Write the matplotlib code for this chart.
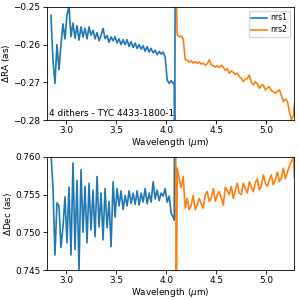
import matplotlib
matplotlib.use("Agg")
import matplotlib.pyplot as plt

# nrs1 wavelengths (um)
wl_nrs1 = [2.85, 2.87, 2.89, 2.91, 2.93, 2.95, 2.97, 2.99, 3.01, 3.03,
           3.05, 3.07, 3.09, 3.11, 3.13, 3.15, 3.17, 3.19, 3.21, 3.23,
           3.25, 3.27, 3.29, 3.31, 3.33, 3.35, 3.37, 3.39, 3.41, 3.43,
           3.45, 3.47, 3.49, 3.51, 3.53, 3.55, 3.57, 3.59, 3.61, 3.63,
           3.65, 3.67, 3.69, 3.71, 3.73, 3.75, 3.77, 3.79, 3.81, 3.83,
           3.85, 3.87, 3.89, 3.91, 3.93, 3.95, 3.97, 3.99, 4.01, 4.03,
           4.05, 4.07, 4.08, 4.085, 4.09]
ra_nrs1 = [-0.2522, -0.2640, -0.2703, -0.2600, -0.2667, -0.2600, -0.2545, -0.2585, -0.2521, -0.2499,
           -0.2579, -0.2543, -0.2583, -0.2550, -0.2588, -0.2553, -0.2580, -0.2557, -0.2585, -0.2553,
           -0.2575, -0.2562, -0.2585, -0.2568, -0.2590, -0.2575, -0.2557, -0.2584, -0.2576, -0.2594,
           -0.2580, -0.2590, -0.2579, -0.2596, -0.2585, -0.2600, -0.2587, -0.2600, -0.2587, -0.2605,
           -0.2592, -0.2608, -0.2596, -0.2610, -0.2600, -0.2612, -0.2603, -0.2618, -0.2605, -0.2620,
           -0.2610, -0.2622, -0.2615, -0.2627, -0.2618, -0.2625, -0.2620, -0.2633, -0.2694, -0.2703,
           -0.2696, -0.2703, -0.2700, -0.2900, -0.2400]
dec_nrs1 = [0.7605, 0.7560, 0.7470, 0.7539, 0.7535, 0.7480, 0.7507, 0.7547, 0.7486, 0.7560,
            0.7470, 0.7592, 0.7477, 0.7569, 0.7450, 0.7583, 0.7500, 0.7561, 0.7486, 0.7565,
            0.7503, 0.7556, 0.7494, 0.7574, 0.7507, 0.7552, 0.7490, 0.7558, 0.7506, 0.7541,
            0.7481, 0.7567, 0.7520, 0.7558, 0.7535, 0.7555, 0.7530, 0.7549, 0.7535, 0.7555,
            0.7538, 0.7552, 0.7537, 0.7555, 0.7536, 0.7552, 0.7540, 0.7558, 0.7538, 0.7552,
            0.7540, 0.7567, 0.7544, 0.7556, 0.7542, 0.7552, 0.7548, 0.7558, 0.7540, 0.7548,
            0.7525, 0.7520, 0.7516, 0.7700, 0.7700]

# nrs2 wavelengths (um)
wl_nrs2 = [4.095, 4.10, 4.11, 4.13, 4.15, 4.17, 4.19, 4.21, 4.23, 4.25,
           4.27, 4.29, 4.31, 4.33, 4.35, 4.37, 4.39, 4.41, 4.43, 4.45,
           4.47, 4.49, 4.51, 4.53, 4.55, 4.57, 4.59, 4.61, 4.63, 4.65,
           4.67, 4.69, 4.71, 4.73, 4.75, 4.77, 4.79, 4.81, 4.83, 4.85,
           4.87, 4.89, 4.91, 4.93, 4.95, 4.97, 4.99, 5.01, 5.03, 5.05,
           5.07, 5.09, 5.11, 5.13, 5.15, 5.17, 5.19, 5.21, 5.23, 5.25,
           5.27, 5.28]
ra_nrs2 = [-0.2400, -0.2450, -0.2574, -0.2579, -0.2577, -0.2585, -0.2640, -0.2641, -0.2647, -0.2643,
           -0.2649, -0.2645, -0.2650, -0.2646, -0.2652, -0.2649, -0.2655, -0.2651, -0.2640, -0.2654,
           -0.2656, -0.2660, -0.2656, -0.2661, -0.2655, -0.2660, -0.2668, -0.2664, -0.2676, -0.2670,
           -0.2674, -0.2679, -0.2676, -0.2685, -0.2690, -0.2698, -0.2692, -0.2690, -0.2681, -0.2700,
           -0.2707, -0.2698, -0.2704, -0.2716, -0.2708, -0.2707, -0.2720, -0.2715, -0.2712, -0.2722,
           -0.2725, -0.2729, -0.2724, -0.2720, -0.2735, -0.2751, -0.2745, -0.2750, -0.2778, -0.2800,
           -0.2787, -0.2756]
dec_nrs2 = [0.7700, 0.7300, 0.7585, 0.7571, 0.7559, 0.7574, 0.7532, 0.7545, 0.7530, 0.7536,
            0.7549, 0.7530, 0.7536, 0.7545, 0.7538, 0.7532, 0.7550, 0.7554, 0.7541, 0.7545,
            0.7558, 0.7541, 0.7550, 0.7554, 0.7545, 0.7536, 0.7560, 0.7555, 0.7550, 0.7561,
            0.7545, 0.7556, 0.7565, 0.7552, 0.7550, 0.7565, 0.7558, 0.7552, 0.7567, 0.7560,
            0.7554, 0.7566, 0.7571, 0.7556, 0.7562, 0.7576, 0.7565, 0.7561, 0.7570, 0.7576,
            0.7563, 0.7570, 0.7580, 0.7567, 0.7572, 0.7585, 0.7571, 0.7580, 0.7588, 0.7594,
            0.7600, 0.7573]

plt.rcParams['font.size'] = 6.4
plt.rcParams['xtick.major.size'] = 2.6
plt.rcParams['ytick.major.size'] = 2.6
plt.rcParams['xtick.major.width'] = 0.6
plt.rcParams['ytick.major.width'] = 0.6
plt.rcParams['axes.linewidth'] = 0.6
plt.rcParams['lines.linewidth'] = 1.2
plt.rcParams['xtick.major.pad'] = 2
plt.rcParams['ytick.major.pad'] = 2

fig = plt.figure(figsize=(2.99, 3.0), dpi=100)
ax1 = fig.add_axes([0.157, 0.6, 0.826, 0.377])
ax2 = fig.add_axes([0.157, 0.1, 0.826, 0.377])

ax1.plot(wl_nrs1, ra_nrs1, label="nrs1")
ax1.plot(wl_nrs2, ra_nrs2, label="nrs2")
ax1.set_xlim(2.81, 5.275)
ax1.set_ylim(-0.28, -0.25)
ax1.set_yticks([-0.28, -0.27, -0.26, -0.25])
ax1.set_xlabel(r"Wavelength ($\mu$m)", labelpad=0.5)
ax1.set_ylabel(r"$\Delta$RA (as)", labelpad=1)
ax1.text(0.01, 0.02, "4 dithers - TYC 4433-1800-1", transform=ax1.transAxes,
         ha="left", va="bottom")
ax1.legend(loc="upper right", fontsize=5.5, handlelength=2.0, borderpad=0.35,
           handletextpad=0.5, labelspacing=0.4)

ax2.plot(wl_nrs1, dec_nrs1)
ax2.plot(wl_nrs2, dec_nrs2)
ax2.set_xlim(2.81, 5.275)
ax2.set_ylim(0.745, 0.760)
ax2.set_yticks([0.745, 0.750, 0.755, 0.760])
ax2.set_xlabel(r"Wavelength ($\mu$m)", labelpad=0.5)
ax2.set_ylabel(r"$\Delta$Dec (as)", labelpad=1)

for ax in (ax1, ax2):
    ax.set_xticks([3.0, 3.5, 4.0, 4.5, 5.0])

fig.savefig("out.png", dpi=100)
